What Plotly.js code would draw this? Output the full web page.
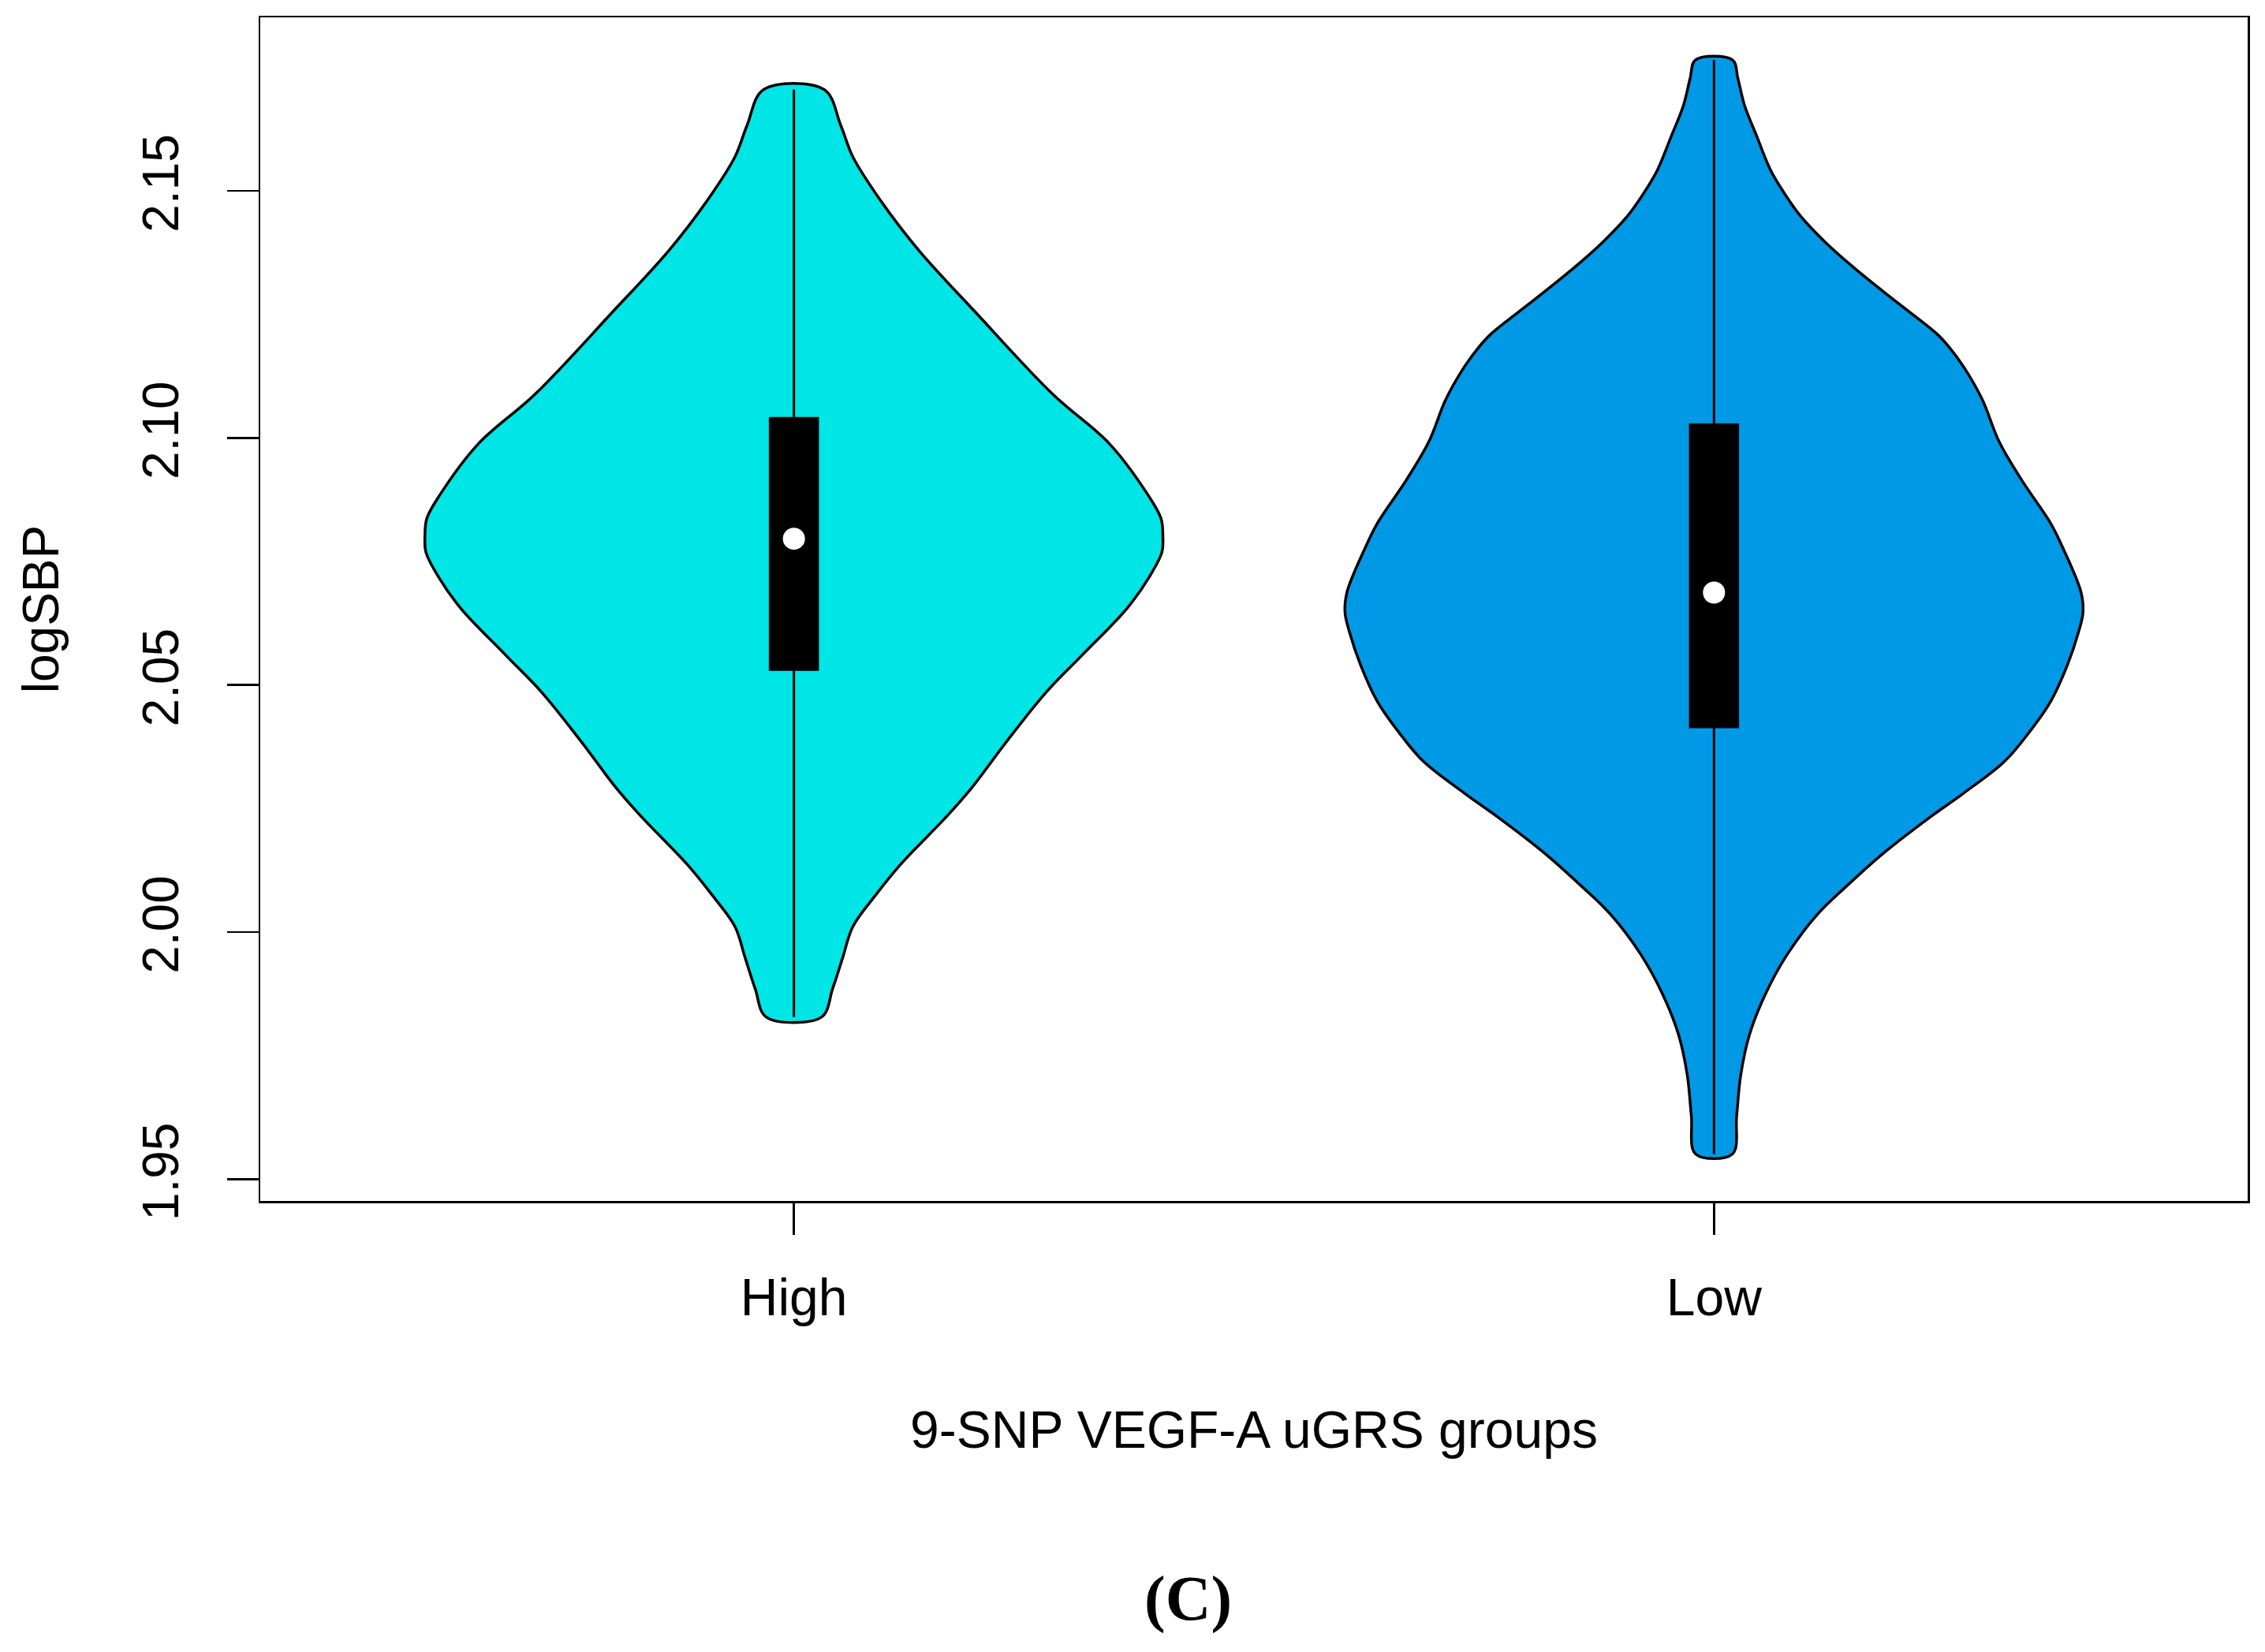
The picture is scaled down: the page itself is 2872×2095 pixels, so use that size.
<!DOCTYPE html>
<html>
<head>
<meta charset="utf-8">
<script src="https://cdn.plot.ly/plotly-3.0.1.min.js"></script>
<style>html,body{margin:0;padding:0;background:#fff;}</style>
</head>
<body>
<div id="chart"></div>
<script>
// ---- data ----
const categories = ['High', 'Low'];
const categoryPositions = [1, 2];

// violin outline: y level and half-width (in x-axis units)
const highY = [2.1705, 2.1632, 2.1569, 2.1481, 2.1379, 2.1253, 2.1089, 2.0988, 2.0887, 2.0837, 2.0800,
  2.0769, 2.0718, 2.0655, 2.0560, 2.0485, 2.0390, 2.0289, 2.0232, 2.0137, 2.0074, 2.0011, 1.9948, 1.9885, 1.9828];
const highHalfWidth = [0.0328, 0.051, 0.064, 0.094, 0.136, 0.198, 0.281, 0.343, 0.384, 0.399, 0.401,
  0.400, 0.386, 0.362, 0.313, 0.274, 0.233, 0.192, 0.165, 0.116, 0.0885, 0.064, 0.053, 0.042, 0.030];

const lowY = [2.1765, 2.1727, 2.1674, 2.1608, 2.1542, 2.1495, 2.1449, 2.1396, 2.1343, 2.1277, 2.1211, 2.1184,
  2.1144, 2.1078, 2.0992, 2.0913, 2.0827, 2.0774, 2.0687, 2.0646, 2.0606, 2.0540, 2.0467, 2.0402, 2.0345,
  2.0280, 2.0231, 2.0158, 2.0092, 2.0035, 1.9954, 1.9873, 1.9791, 1.9710, 1.9628, 1.9551];
const lowHalfWidth = [0.020, 0.026, 0.033, 0.047, 0.0615, 0.0765, 0.094, 0.121, 0.153, 0.197, 0.242, 0.2555,
  0.2713, 0.2915, 0.310, 0.335, 0.366, 0.380, 0.399, 0.401, 0.396, 0.384, 0.366, 0.3416, 0.3156,
  0.2705, 0.2336, 0.183, 0.1435, 0.112, 0.0793, 0.0555, 0.0383, 0.029, 0.0246, 0.020];

// box statistics
const q1Values = [2.0529, 2.0413];
const medianValues = [2.0796, 2.0687];
const q3Values = [2.1042, 2.1029];
const minValues = [1.9828, 1.9551];
const maxValues = [2.1705, 2.1765];

const fillColors = ['#00E5E5', '#0099E6'];

const yTickVals = [1.95, 2.00, 2.05, 2.10, 2.15];
const yTickText = ['1.95', '2.00', '2.05', '2.10', '2.15'];

// ---- styling ----
const BOX_HALF = 0.027;

// ---- build traces ----
function outline(center, ys, hw) {
  const x = [], y = [];
  for (let i = 0; i < ys.length; i++) { x.push(center - hw[i]); y.push(ys[i]); }
  for (let i = ys.length - 1; i >= 0; i--) { x.push(center + hw[i]); y.push(ys[i]); }
  x.push(x[0]); y.push(y[0]);
  return {x, y};
}

const shapes = [[highY, highHalfWidth], [lowY, lowHalfWidth]];
const traces = [];
shapes.forEach((s, i) => {
  const o = outline(categoryPositions[i], s[0], s[1]);
  traces.push({
    type: 'scatter', mode: 'lines', x: o.x, y: o.y,
    fill: 'toself', fillcolor: fillColors[i],
    line: {color: 'black', width: 3.5, shape: 'spline', smoothing: 1.0},
    hoverinfo: 'skip', showlegend: false
  });
});

categoryPositions.forEach((p, i) => {
  // whisker line from min to max
  traces.push({
    type: 'scatter', mode: 'lines', x: [p, p], y: [minValues[i], maxValues[i]],
    line: {color: 'black', width: 3}, showlegend: false, hoverinfo: 'skip'
  });
  // box from q1 to q3
  traces.push({
    type: 'scatter', mode: 'lines',
    x: [p - BOX_HALF, p + BOX_HALF, p + BOX_HALF, p - BOX_HALF, p - BOX_HALF],
    y: [q1Values[i], q1Values[i], q3Values[i], q3Values[i], q1Values[i]],
    fill: 'toself', fillcolor: 'black', line: {color: 'black', width: 0.5},
    showlegend: false, hoverinfo: 'skip'
  });
});

traces.push({
  type: 'scatter', mode: 'markers', x: categoryPositions, y: medianValues,
  marker: {color: 'white', size: 28, line: {width: 0}},
  showlegend: false, hoverinfo: 'skip'
});

const layout = {
  width: 2872, height: 2095,
  margin: {l: 330, r: 22, t: 22, b: 572, pad: 0},
  paper_bgcolor: 'white', plot_bgcolor: 'white',
  showlegend: false,
  font: {family: 'Liberation Sans, Arial, sans-serif', color: 'black'},
  xaxis: {
    range: [0.42, 2.58], tickmode: 'array', tickvals: categoryPositions, ticktext: categories,
    ticks: 'outside', ticklen: 40, tickwidth: 2.5, tickcolor: 'black',
    showline: true, mirror: true, linecolor: 'black', linewidth: 2.5,
    showgrid: false, zeroline: false, automargin: false,
    tickfont: {size: 66, color: 'black'}, ticklabelstandoff: 23,
    title: {text: '9-SNP VEGF-A uGRS groups', font: {size: 66, color: 'black'}, standoff: 109}
  },
  yaxis: {
    range: [1.9456, 2.1851], tickmode: 'array', tickvals: yTickVals, ticktext: yTickText,
    tickangle: -90,
    ticks: 'outside', ticklen: 40, tickwidth: 2.5, tickcolor: 'black',
    showline: true, mirror: true, linecolor: 'black', linewidth: 2.5,
    showgrid: false, zeroline: false, automargin: false,
    tickfont: {size: 64, color: 'black'}, ticklabelstandoff: 36,
    title: {text: 'logSBP', font: {size: 64, color: 'black'}, standoff: 73}
  },
  annotations: [{
    text: '<b>(C)</b>', xref: 'paper', yref: 'paper', x: 0.467, y: -0.3364,
    xanchor: 'center', yanchor: 'middle', showarrow: false,
    font: {family: 'Liberation Serif, Times New Roman, serif', size: 80, color: 'black'}
  }]
};

Plotly.newPlot('chart', traces, layout, {staticPlot: true, displayModeBar: false});
</script>
</body>
</html>
